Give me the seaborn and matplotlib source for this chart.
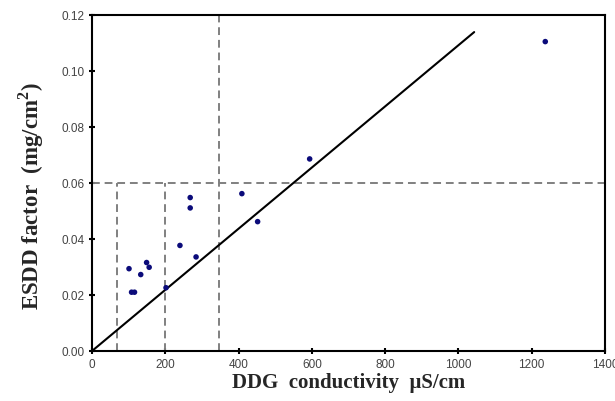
import matplotlib
matplotlib.use("Agg")
import matplotlib.pyplot as plt
import seaborn as sns
import pandas as pd

# Data
ddg_conductivity = [101, 108, 116, 133, 149, 156, 202, 240, 268, 268, 284, 409, 452, 594, 1237]
esdd_factor = [0.0294, 0.0210, 0.0210, 0.0273, 0.0316, 0.0299, 0.0226, 0.0377, 0.0548, 0.0511,
               0.0336, 0.0562, 0.0462, 0.0686, 0.1105]
fit_x = [0, 1043]
fit_y = [0.0, 0.1139]
x_ticks = [0, 200, 400, 600, 800, 1000, 1200, 1400]
y_ticks = [0.00, 0.02, 0.04, 0.06, 0.08, 0.10, 0.12]
ref_h = 0.06
ref_v_full = 347
ref_v_short = [69, 199]

sns.set_style("ticks")
plt.rcParams['font.family'] = ['Liberation Sans', 'DejaVu Sans']
plt.rcParams['mathtext.fontset'] = 'custom'
plt.rcParams['mathtext.bf'] = 'Liberation Serif:bold'
plt.rcParams['mathtext.rm'] = 'Liberation Serif:bold'

fig = plt.figure(figsize=(6.15, 4.01), dpi=100)
ax = fig.add_axes([92/615, 50/401, 513/615, 336/401])

df = pd.DataFrame({"x": ddg_conductivity, "y": esdd_factor})
fit = pd.DataFrame({"x": fit_x, "y": fit_y})

dash_kw = dict(color="#808080", linewidth=1.4, linestyle=(0, (4, 2.5)), zorder=1)
ax.axhline(ref_h, **dash_kw)
ax.axvline(ref_v_full, **dash_kw)
for xv in ref_v_short:
    ax.plot([xv, xv], [0, ref_h], **dash_kw)

sns.lineplot(data=fit, x="x", y="y", color="black", linewidth=1.5, ax=ax, zorder=2)
sns.scatterplot(data=df, x="x", y="y", color="#0b0b7a", s=16, edgecolor="none", ax=ax, zorder=3)

ax.set_xlim(0, 1400)
ax.set_ylim(0, 0.12)
ax.set_xticks(x_ticks)
ax.set_xticklabels([str(t) for t in x_ticks])
ax.set_yticks(y_ticks)
ax.set_yticklabels([f"{t:.2f}" for t in y_ticks])
for s in ax.spines.values():
    s.set_visible(True)
    s.set_linewidth(1.5)
    s.set_color("black")
ax.tick_params(axis="both", direction="inout", length=5, width=1.5, labelsize=8.5,
               labelcolor="#444444", color="black", pad=3)

ax.set_xlabel("DDG  conductivity  μS/cm", fontsize=15, fontweight="bold",
              family=["Liberation Serif", "DejaVu Serif"], labelpad=2)
ax.set_ylabel(r"ESDD factor  (mg/cm$^{\mathrm{2}}$)", fontsize=16.5, fontweight="bold",
              family=["Liberation Serif", "DejaVu Serif"])
ax.yaxis.set_label_coords(-0.09, 0.46)

fig.savefig("out.png", dpi=100)
